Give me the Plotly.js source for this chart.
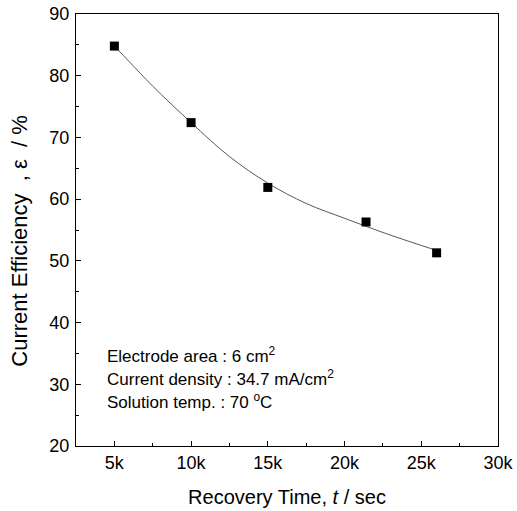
<!DOCTYPE html>
<html>
<head>
<meta charset="utf-8">
<script src="https://cdn.plot.ly/plotly-3.0.1.min.js"></script>
<style>html,body{margin:0;padding:0;background:#fff;}#chart{width:517px;height:511px;}</style>
</head>
<body>
<div id="chart"></div>
<script>
// Measured data points
const timeSec = [5000, 10000, 15000, 21400, 26000];
const efficiency = [84.8, 72.4, 61.9, 56.3, 51.3];

// Fitted curve
const fitTime = [5000, 6000, 7500, 10000, 12500, 15000, 17500, 20000, 22500, 25000, 26000];
const fitEff = [84.8, 82.2, 78.3, 72.4, 66.9, 62.6, 59.3, 56.9, 54.6, 52.5, 51.7];

// Tick labels
const xTickVals = [5000, 10000, 15000, 20000, 25000, 30000];
const xTickText = ['5k', '10k', '15k', '20k', '25k', '30k'];
const yTickVals = [20, 30, 40, 50, 60, 70, 80, 90];

const conditions = [
  'Electrode area : 6 cm<sup>2</sup>',
  'Current density : 34.7 mA/cm<sup>2</sup>',
  'Solution temp. : 70 <sup>o</sup>C'
];
const yTitle = 'Current Efficiency\u00A0\u00A0,\u00A0ε\u00A0\u00A0/\u00A0%';
const xTitle = 'Recovery Time, <i>t</i> / sec';

const font = 'Liberation Sans, Arial, Helvetica, sans-serif';

const traces = [
  {
    x: fitTime, y: fitEff, type: 'scatter', mode: 'lines',
    line: {color: '#444', width: 0.9, shape: 'spline'},
    hoverinfo: 'skip'
  },
  {
    x: timeSec, y: efficiency, type: 'scatter', mode: 'markers',
    marker: {symbol: 'square', size: 9, color: '#000'}
  }
];

const condLineY = [0.2106, 0.1574, 0.1042];
const annotations = conditions.map((t, i) => ({
  xref: 'paper', yref: 'paper', x: 0.069, y: condLineY[i],
  xanchor: 'left', yanchor: 'middle', align: 'left', showarrow: false,
  text: t, font: {size: 17, family: font, color: '#000'}
}));
annotations.push({
  xref: 'paper', yref: 'paper', x: -0.133, y: 0.475,
  xanchor: 'center', yanchor: 'middle', textangle: -90, showarrow: false,
  text: yTitle, font: {size: 22, family: font, color: '#000'}
});

const layout = {
  width: 517, height: 511,
  margin: {l: 76, r: 19, t: 14, b: 65},
  paper_bgcolor: '#fff', plot_bgcolor: '#fff',
  showlegend: false,
  font: {family: font, color: '#000', size: 18},
  xaxis: {
    range: [2500, 30000],
    tickvals: xTickVals, ticktext: xTickText,
    ticks: 'inside', ticklen: 5, tickwidth: 1, tickcolor: '#000',
    minor: {dtick: 2500, tick0: 0, ticks: 'inside', ticklen: 3, tickcolor: '#000'},
    showline: true, linecolor: '#000', linewidth: 1, mirror: true,
    showgrid: false, zeroline: false,
    tickfont: {size: 18, family: font},
    title: {text: xTitle, font: {size: 20, family: font}, standoff: 18}
  },
  yaxis: {
    range: [20, 90],
    tickvals: yTickVals,
    ticks: 'inside', ticklen: 5, tickwidth: 1, tickcolor: '#000',
    minor: {dtick: 5, tick0: 0, ticks: 'inside', ticklen: 3, tickcolor: '#000'},
    showline: true, linecolor: '#000', linewidth: 1, mirror: true,
    showgrid: false, zeroline: false,
    ticklabelstandoff: 2,
    tickfont: {size: 18, family: font}
  },
  annotations: annotations
};

Plotly.newPlot('chart', traces, layout, {displayModeBar: false, staticPlot: true});
</script>
</body>
</html>
